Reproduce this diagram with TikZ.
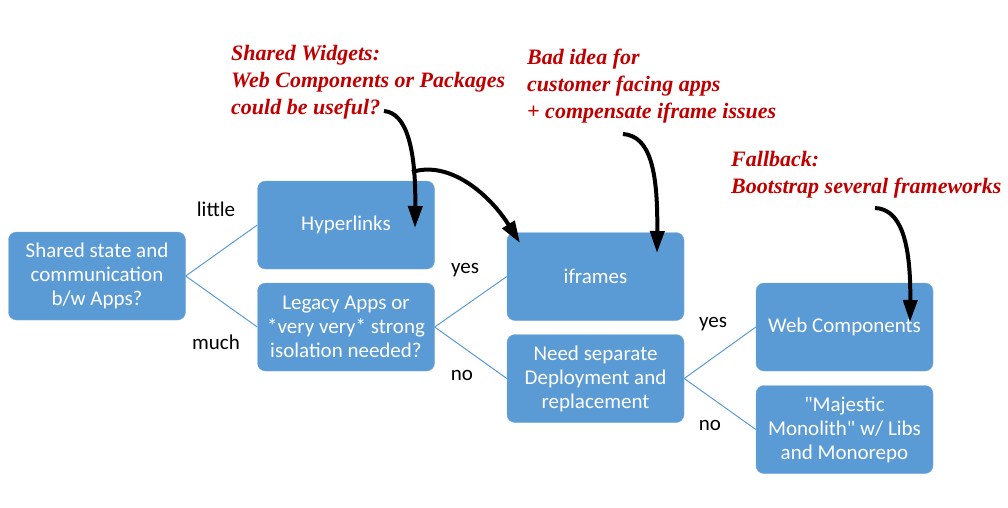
\documentclass[tikz,border=0pt]{standalone}
\usepackage{fontspec}
\setmainfont{Carlito}
\newfontfamily\notefont{Liberation Serif}
\usetikzlibrary{arrows.meta}
\definecolor{boxblue}{HTML}{5B9BD5}
\definecolor{notered}{HTML}{C00000}

\begin{document}
\begin{tikzpicture}[x=1pt,y=-1pt,
    box/.style={rectangle, rounded corners=8pt, fill=boxblue, draw=boxblue!85!white,
        text=white, minimum width=177pt, minimum height=88pt, align=center,
        inner sep=0pt, font=\fontsize{21}{24}\selectfont},
    link/.style={draw=boxblue, line width=1pt},
    lbl/.style={text=black, font=\fontsize{21}{24}\selectfont},
    note/.style={text=notered, align=left, anchor=west, inner sep=0pt,
        font=\notefont\bfseries\itshape\fontsize{22}{27}\selectfont},
    hint/.style={line width=4pt, -{Triangle[length=22pt,width=14pt]}}]
        \useasboundingbox (0,0) rectangle (1008,507);
        % decision boxes
        \node[box] (shared) at (97,276) {Shared state and\\communication\\b/w Apps?};
        \node[box] (hyper) at (346,225) {Hyperlinks};
        \node[box] (legacy) at (346,327) {Legacy Apps or\\*very very* strong\\isolation needed?};
        \node[box] (iframes) at (595.5,276.5) {iframes};
        \node[box] (deploy) at (595.5,378.5) {Need separate\\Deployment and\\replacement};
        \node[box] (webcomp) at (844.5,327) {Web Components};
        \node[box] (monolith) at (844.5,429.5) {\textquotedbl Majestic\\Monolith\textquotedbl{} w/ Libs\\and Monorepo};
        % connectors
        \draw[link] (shared.east) -- (hyper.west);
        \draw[link] (shared.east) -- (legacy.west);
        \draw[link] (legacy.east) -- (iframes.west);
        \draw[link] (legacy.east) -- (deploy.west);
        \draw[link] (deploy.east) -- (webcomp.west);
        \draw[link] (deploy.east) -- (monolith.west);
        \node[lbl] (little) at (216,209) {little};
        \node[lbl] (much) at (216,342) {much};
        \node[lbl] (yesA) at (465,270) {yes};
        \node[lbl] (noA) at (462,375) {no};
        \node[lbl] (yesB) at (713,324) {yes};
        \node[lbl] (noB) at (710,425) {no};
        % notes
        \node[note] (widgets) at (231,82) {Shared Widgets:\\Web Components or Packages\\could be useful?};
        \node[note] (badidea) at (527,86) {Bad idea for\\customer facing apps\\+ compensate iframe issues};
        \node[note] (fallback) at (731,175) {Fallback:\\Bootstrap several frameworks};
        \coordinate (w1) at (384,111);
        \coordinate (w2) at (412,172);
        \coordinate (b1) at (623,134);
        \coordinate (f1) at (875,208);
        \draw[hint] (w1) .. controls (407,113) and (416,150) .. (415,228);
        \draw[hint] (w2) .. controls (450,160) and (490,195) .. (520,243);
        \draw[hint] (b1) .. controls (650,136) and (658,170) .. (657,253);
        \draw[hint] (f1) .. controls (900,209) and (911,240) .. (910,322);
\end{tikzpicture}
\end{document}
